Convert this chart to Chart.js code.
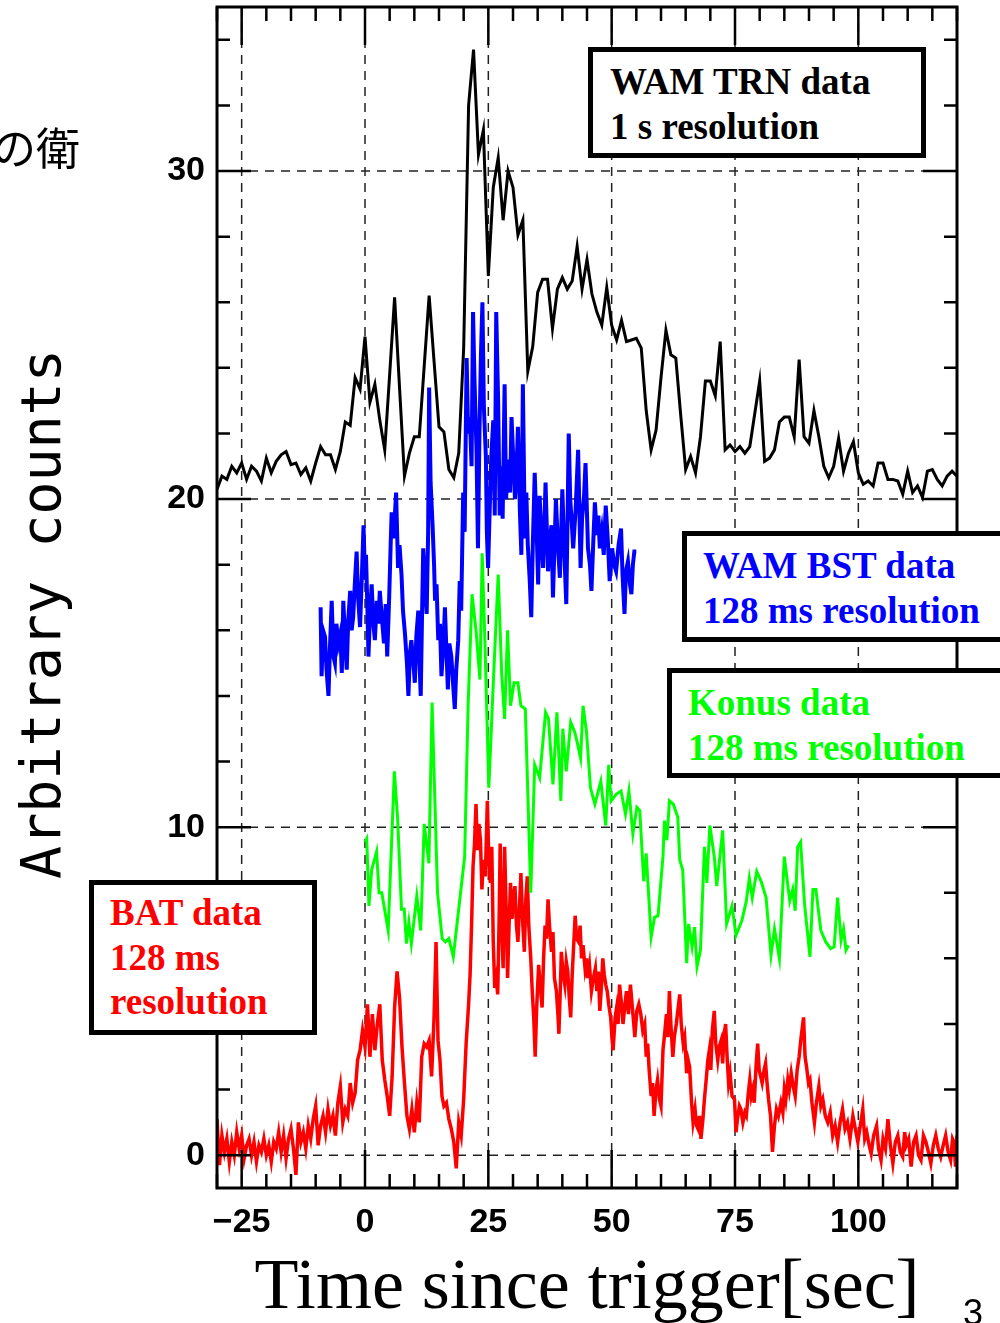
<!DOCTYPE html>
<html>
<head>
<meta charset="utf-8">
<script src="https://cdn.jsdelivr.net/npm/chart.js@4.4.1/dist/chart.umd.min.js"></script>
<style>
html, body { margin:0; padding:0; background:#fff; overflow:hidden; }
#wrap { position:relative; width:1000px; height:1323px; overflow:hidden; }
canvas { position:absolute; left:0; top:0; }
.box { position:absolute; box-sizing:border-box; border:5px solid #000; background:#fff;
  font:bold 37px "Liberation Serif", "Times New Roman", serif; line-height:45px;
  padding:7px 0 0 16px; white-space:nowrap; }
.note { position:absolute; white-space:nowrap; color:#000; }
</style>
</head>
<body>
<div id="wrap">
<canvas id="myChart" width="1000" height="1323"></canvas>
<div class="note" style="left:-8px;top:122px;font:44px 'Noto Sans CJK JP';line-height:48px">の衛</div>
<div class="box" style="left:588px;top:47px;width:338px;height:111px;color:#000;padding-left:17px">WAM TRN data<br>1 s resolution</div>
<div class="box" style="left:682px;top:531px;width:340px;height:111px;color:#0000ff">WAM BST data<br>128 ms resolution</div>
<div class="box" style="left:667px;top:668px;width:350px;height:110px;color:#00ff00">Konus data<br>128 ms resolution</div>
<div class="box" style="left:89px;top:880px;width:228px;height:155px;color:#ff0000;padding-top:6px;line-height:44.5px">BAT data<br>128 ms<br>resolution</div>
<div class="note" style="left:963px;top:1295px;font:36px 'Liberation Sans';line-height:36px">3</div>
</div>
<script>
// axis ticks
var xTicks = [-25, 0, 25, 50, 75, 100];
var yTicks = [0, 10, 20, 30];

// WAM TRN, 1 s bins starting at -30 s
var blackStart = -30;
var blackV = [
  20.3, 20.7, 20.6, 21.0, 20.8, 21.1, 20.6, 21.0, 20.85, 20.55,
  21.25, 20.8, 21.15, 21.35, 21.45, 21.05, 21.1, 20.75, 20.95, 20.55,
  21.1, 21.6, 21.35, 21.35, 20.9, 21.45, 22.35, 22.25, 23.7, 23.35,
  24.95, 22.95, 23.5, 22.4, 21.5, 23.8, 26.15, 23.4, 20.7, 21.4,
  21.9, 21.9, 24.05, 26.2, 24.2, 22.2, 22.05, 20.9, 20.65, 21.4,
  24.6, 32.0, 33.7, 30.5, 31.25, 26.8, 29.5, 30.4, 28.5, 30.0,
  29.5, 28.05, 28.5, 23.9, 24.65, 26.3, 26.7, 26.7, 25.2, 26.4,
  26.75, 26.4, 26.65, 27.7, 26.4, 27.3, 26.25, 25.7, 25.3, 26.45,
  25.3, 24.85, 25.45, 24.8, 24.85, 24.9, 24.6, 22.7, 21.5, 22.1,
  23.7, 25.15, 24.4, 24.3, 22.55, 20.9, 21.3, 20.8, 21.9, 23.6,
  23.6, 23.15, 24.8, 21.5, 21.65, 21.45, 21.6, 21.4, 21.6, 22.6,
  23.6, 21.15, 21.25, 21.5, 22.35, 22.5, 22.5, 21.9, 24.25, 21.9,
  21.7, 22.7, 21.9, 21.0, 20.65, 21.0, 21.85, 20.85, 21.4, 21.75,
  20.8, 20.45, 20.55, 20.4, 21.1, 21.1, 20.6, 20.6, 20.55, 20.15,
  20.85, 20.2, 20.4, 20.05, 20.85, 20.9, 20.6, 20.4, 20.7, 20.85, 20.7
];

// WAM BST
var blueT = [
  -9.0, -8.8, -8.5, -8.1, -7.8, -7.4, -7.1, -6.75, -6.4, -6.1,
  -5.8, -5.4, -5.0, -4.7, -4.4, -4.0, -3.7, -3.4, -3.0, -2.7,
  -2.4, -2.0, -1.7, -1.4, -1.0, -0.6, -0.3, 0.0, 0.2, 0.5,
  0.7, 1.0, 1.35, 1.7, 2.0, 2.4, 2.7, 3.0, 3.4, 3.85,
  4.2, 4.5, 4.9, 5.2, 5.4, 5.8, 6.3, 6.7, 7.0, 7.4,
  7.7, 8.1, 8.5, 8.8, 9.1, 9.4, 9.8, 10.1, 10.4, 10.8,
  11.0, 11.3, 11.6, 11.8, 12.1, 12.5, 12.8, 13.0, 13.3, 13.7,
  14.0, 14.2, 14.5, 14.85, 15.2, 15.5, 15.9, 16.2, 16.5, 16.8,
  17.1, 17.5, 17.8, 18.2, 18.5, 18.9, 19.2, 19.5, 19.9, 20.2,
  20.6, 20.9, 21.25, 21.6, 21.9, 22.2, 22.6, 22.9, 23.2, 23.5,
  23.8, 24.1, 24.5, 24.7, 24.95, 25.3, 25.6, 26.0, 26.3, 26.6,
  27.0, 27.3, 27.6, 27.9, 28.3, 28.6, 29.0, 29.4, 29.7, 30.4,
  30.7, 31.0, 31.4, 31.7, 32.0, 32.4, 32.7, 33.0, 33.4, 33.7,
  34.0, 34.4, 34.8, 35.1, 35.4, 35.8, 36.1, 36.6, 37.1, 37.5,
  37.8, 38.1, 38.4, 38.7, 39.1, 39.5, 40.0, 40.4, 40.8, 41.0,
  41.3, 41.6, 41.9, 42.2, 42.7, 43.2, 43.7, 44.0, 44.4, 44.7,
  45.2, 45.6, 45.9, 46.3, 46.6, 47.0, 47.3, 47.6, 48.0, 48.4,
  48.8, 49.2, 49.6, 50.1, 50.5, 50.9, 51.4, 51.9, 52.2, 52.6,
  52.9, 53.3, 53.7, 54.0, 54.3, 54.6, 55.0
];
var blueV = [
  16.7, 14.6, 16.0, 15.8, 14.8, 14.0, 15.5, 16.9, 15.2, 15.0,
  16.2, 15.6, 15.9, 14.7, 16.9, 15.6, 14.8, 16.3, 17.2, 16.0,
  16.4, 17.6, 18.4, 17.0, 16.1, 17.8, 19.2, 17.6, 18.3, 16.6,
  15.2, 16.4, 17.4, 16.2, 15.7, 16.9, 16.2, 17.2, 16.4, 15.6,
  16.8, 15.2, 17.0, 18.6, 19.6, 18.8, 20.2, 17.9, 18.6, 17.7,
  16.6, 15.9, 15.0, 14.0, 15.3, 15.7, 15.0, 14.4, 15.8, 16.6,
  15.2, 14.0, 16.8, 18.5, 17.6, 16.5, 19.0, 23.4, 20.5, 19.2,
  18.0, 16.9, 17.4, 15.7, 16.2, 14.6, 15.6, 16.7, 15.4, 14.2,
  15.6, 15.2, 14.5, 13.6, 14.8, 15.7, 17.5, 16.6, 20.2, 19.0,
  24.3, 22.0, 22.5, 21.0, 25.7, 23.6, 21.5, 18.5, 22.0, 24.4,
  26.0, 22.8, 21.3, 19.0, 17.9, 19.8, 21.3, 22.4, 19.5, 25.7,
  22.9, 19.5, 21.0, 19.4, 23.5, 20.0, 21.2, 20.2, 22.5, 20.0,
  20.8, 22.2, 19.6, 18.3, 23.5, 18.8, 20.2, 18.6, 17.5, 16.4,
  18.5, 20.8, 19.0, 17.4, 20.1, 18.7, 17.9, 20.5, 17.8, 18.8,
  19.2, 17.0, 18.5, 20.0, 18.6, 17.6, 20.3, 18.4, 16.8, 18.8,
  22.0, 20.0, 19.3, 18.5, 19.7, 21.5, 17.9, 19.4, 20.1, 21.1,
  18.5, 18.0, 17.2, 18.8, 19.9, 18.9, 19.5, 18.5, 19.0, 18.3,
  19.8, 18.8, 17.5, 18.5, 18.0, 17.8, 18.6, 19.1, 17.7, 16.5,
  17.8, 18.1, 17.4, 17.1, 18.0, 18.4, 18.4
];

// Konus
var greenT = [
  0.0, 0.35, 0.8, 1.35, 2.35, 2.85, 3.4, 4.7, 5.95, 6.6,
  7.4, 7.95, 8.4, 8.9, 9.4, 10.5, 11.3, 12.0, 12.95, 13.6,
  14.7, 15.65, 16.3, 17.0, 17.9, 20.2, 20.9, 21.7, 22.5, 23.3,
  23.75, 24.3, 25.1, 25.95, 27.0, 27.7, 28.3, 28.9, 29.5, 30.2,
  31.0, 31.6, 32.5, 33.6, 34.4, 35.4, 36.6, 37.2, 38.1, 38.9,
  39.7, 40.1, 40.8, 41.7, 42.5, 43.0, 43.7, 44.2, 44.9, 45.7,
  46.6, 47.8, 48.8, 49.4, 49.9, 50.9, 51.9, 52.8, 53.5, 54.3,
  55.1, 55.7, 56.5, 57.0, 58.0, 58.7, 59.4, 60.4, 60.7, 61.2,
  61.7, 62.5, 63.4, 63.8, 64.4, 65.2, 65.6, 66.3, 66.8, 67.3,
  68.0, 68.8, 69.3, 69.9, 70.8, 71.3, 72.5, 73.3, 74.4, 75.2,
  76.4, 77.3, 77.9, 78.5, 79.4, 80.3, 81.3, 82.3, 83.0, 84.0,
  85.0, 86.1, 86.7, 87.2, 87.7, 88.3, 89.1, 90.2, 90.8, 91.4,
  92.4, 93.4, 94.4, 95.1, 95.8, 96.5, 97.0, 97.5, 98.0
];
var greenV = [
  9.55, 9.65, 7.6, 8.7, 9.25, 8.0, 8.0, 6.85, 11.7, 10.3,
  7.5, 7.5, 6.45, 7.1, 6.45, 7.9, 6.85, 10.1, 8.9, 13.8,
  8.0, 6.6, 6.5, 6.6, 6.05, 9.1, 13.7, 17.1, 16.0, 14.5,
  18.35, 15.7, 11.2, 14.2, 17.7, 14.7, 13.3, 16.0, 13.7, 14.4,
  14.4, 13.7, 13.6, 8.0, 11.9, 11.5, 13.5, 13.3, 11.3, 13.5,
  10.8, 13.0, 11.7, 13.2, 12.9, 12.6, 12.1, 13.7, 12.9, 11.2,
  10.7, 11.4, 10.05, 11.9, 10.8, 11.0, 11.1, 10.4, 11.1, 9.8,
  10.6, 10.5, 8.35, 9.2, 6.65, 7.25, 7.3, 9.1, 10.2, 9.6,
  10.8, 10.7, 10.3, 9.0, 8.7, 5.85, 7.05, 6.35, 6.95, 5.75,
  6.25, 9.4, 8.3, 10.05, 9.1, 8.2, 9.9, 7.05, 7.6, 6.7,
  7.15, 7.75, 8.45, 7.85, 8.65, 8.35, 7.85, 6.1, 6.9, 6.0,
  9.1, 7.75, 8.1, 7.45, 9.4, 9.55, 7.65, 6.05, 8.1, 8.1,
  6.85, 6.5, 6.3, 6.35, 7.85, 6.55, 6.9, 6.25, 6.4
];

// BAT
var redT = [
  -30, -29.5, -29, -28.5, -28, -27.5, -27, -26.5, -26, -25.5,
  -25, -24.5, -24, -23.5, -23, -22.5, -22, -21.5, -21, -20.5,
  -20, -19.5, -19, -18.5, -18, -17.5, -17, -16.5, -16, -15.5,
  -15, -14.5, -14, -13.5, -13, -12.5, -12, -11.5, -11, -10.5,
  -10, -9.5, -9, -8.5, -8, -7.5, -7, -6.5, -6, -5.5,
  -5, -4.5, -4, -3.5, -3, -2.5, -2, -1.5, -1, -0.5,
  0, 0.5, 1, 1.5, 2, 2.5, 3, 3.5, 4, 4.5,
  5, 5.5, 6, 6.5, 7, 7.5, 8, 8.5, 9, 9.5,
  10, 10.5, 11, 11.5, 12, 12.5, 13, 13.5, 14, 14.4,
  14.8, 15.2, 15.6, 16, 16.5, 17, 17.5, 18, 18.5, 19,
  19.5, 20, 20.5, 21, 21.3, 21.6, 21.9, 22.2, 22.5, 22.8,
  23.1, 23.4, 23.7, 24, 24.4, 24.8, 25.1, 25.4, 25.7, 26,
  26.3, 26.6, 26.9, 27.2, 27.4, 27.7, 28, 28.3, 28.6, 28.9,
  29.2, 29.5, 29.8, 30.1, 30.4, 30.7, 31, 31.3, 31.6, 32,
  32.3, 32.6, 32.9, 33.2, 33.6, 33.9, 34.2, 34.5, 34.8, 35.2,
  35.5, 35.9, 36.2, 36.5, 36.8, 37.1, 37.4, 37.8, 38.1, 38.4,
  38.8, 39.1, 39.3, 39.6, 39.8, 40.1, 40.5, 40.8, 41.1, 41.4,
  41.7, 42, 42.3, 42.6, 42.9, 43.3, 43.6, 43.9, 44.2, 44.6,
  44.9, 45.1, 45.5, 45.9, 46.3, 46.7, 47, 47.3, 47.6, 47.9,
  48.2, 48.5, 48.8, 49.1, 49.4, 49.8, 50.1, 50.3, 50.7, 51,
  51.3, 51.6, 52, 52.3, 52.7, 53, 53.4, 53.8, 54.2, 54.7,
  55.1, 55.5, 55.9, 56.3, 56.7, 57, 57.3, 57.6, 58, 58.3,
  58.6, 59, 59.3, 59.7, 60, 60.4, 60.8, 61.1, 61.4, 61.7,
  62, 62.4, 62.7, 63.1, 63.4, 63.8, 64.1, 64.5, 64.8, 65.2,
  65.5, 65.8, 66.2, 66.5, 66.9, 67.2, 67.5, 67.8, 68.1, 68.5,
  68.8, 69.1, 69.5, 69.8, 70.1, 70.4, 70.8, 71.1, 71.5, 71.8,
  72.2, 72.5, 72.8, 73.1, 73.4, 73.7, 74, 74.4, 74.9, 75.2,
  75.5, 75.9, 76.2, 76.6, 77, 77.3, 77.7, 78, 78.3, 78.6,
  78.9, 79.3, 79.6, 79.9, 80.2, 80.5, 80.9, 81.2, 81.5, 81.8,
  82.2, 82.6, 83, 83.4, 83.8, 84.3, 84.7, 85, 85.3, 85.7,
  86, 86.4, 86.8, 87.2, 87.6, 88, 88.4, 88.9, 89.2, 89.5,
  89.9, 90.2, 90.6, 91.1, 91.5, 92, 92.4, 92.8, 93.3, 93.8,
  94.3, 94.8, 95.3, 95.8, 96.3, 96.8, 97.3, 97.8, 98.3, 98.9,
  99.4, 99.9, 100.4, 100.9, 101.3, 101.7, 102.2, 102.6, 103.1, 103.7,
  104.1, 104.6, 105, 105.5, 106, 106.5, 107, 107.5, 108, 108.5,
  109, 109.4, 109.7, 110.2, 110.7, 111.2, 111.7, 112.2, 112.7, 113.2,
  113.7, 114.2, 114.7, 115.2, 115.7, 116.2, 116.7, 117.2, 117.7, 118.2,
  118.7, 119.1, 119.4, 119.7, 120
];
var redV = [
  1.1, -0.3, 0.6, 0.1, 0.5, -0.2, 0.4, 0.0, 0.7, 0.2,
  0.6, -0.1, 0.3, 0.5, 0.0, 0.4, -0.2, 0.3, 0.1, 0.5,
  0.0, 0.3, -0.2, 0.4, 0.2, 0.7, 0.1, 0.6, -0.1, 0.5,
  0.8, 0.2, -0.6, 1.0, 0.4, 0.7, 0.2, 0.9, 0.5, 1.1,
  1.5, 0.3, 0.9, 1.2, 0.7, 1.4, 0.9, 1.2, 0.6, 1.6,
  2.1, 1.0, 1.4, 1.2, 2.2, 1.6, 1.9, 2.9, 3.2, 3.8,
  3.3, 4.6, 3.0, 4.3, 3.2, 4.0, 4.6, 2.9, 2.3, 1.8,
  1.2, 2.4, 4.5, 5.6, 4.8, 3.3, 2.2, 1.2, 0.8, 1.4,
  0.7, 1.6, 1.0, 3.0, 3.4, 3.3, 3.5, 2.4, 4.2, 6.5,
  3.5, 2.9, 1.8, 1.5, 1.6, 1.1, 0.8, 0.4, -0.4, 1.0,
  0.6, 1.7, 3.4, 4.6, 5.5, 7.0, 8.8, 9.5, 10.7, 9.3,
  10.1, 9.6, 8.1, 9.0, 8.5, 10.8, 9.0, 8.3, 9.4, 6.5,
  5.1, 5.4, 4.9, 7.3, 9.5, 7.0, 5.7, 9.4, 7.6, 5.4,
  7.0, 8.3, 7.2, 7.9, 8.2, 7.0, 6.5, 7.5, 8.6, 7.0,
  6.2, 7.8, 8.5, 7.0, 6.0, 5.0, 4.2, 3.0, 4.5, 5.8,
  5.2, 4.5, 6.0, 7.0, 6.6, 7.8, 7.0, 6.2, 6.8, 5.4,
  5.0, 4.3, 3.7, 5.1, 6.2, 5.6, 5.2, 5.9, 5.6, 4.8,
  4.2, 5.5, 6.4, 7.3, 6.6, 6.5, 7.0, 6.0, 6.4, 5.7,
  6.0, 5.4, 5.8, 5.0, 5.4, 5.7, 5.0, 5.6, 4.4, 5.1,
  6.0, 5.5, 5.2, 5.0, 4.6, 4.2, 3.5, 3.2, 4.2, 4.5,
  4.0, 5.2, 4.6, 4.0, 4.6, 5.0, 4.3, 5.2, 4.5, 3.6,
  4.4, 4.6, 4.3, 3.8, 4.0, 3.0, 3.4, 2.6, 1.8, 2.2,
  1.2, 2.0, 2.3, 1.7, 1.5, 3.2, 3.8, 4.3, 3.6, 5.0,
  4.0, 3.0, 3.6, 4.0, 4.4, 4.9, 4.0, 3.4, 3.6, 2.5,
  2.9, 2.7, 1.6, 1.0, 1.4, 0.9, 0.8, 1.2, 0.5, 1.1,
  1.7, 2.2, 2.9, 3.2, 2.6, 3.8, 4.4, 3.4, 2.9, 3.3,
  3.5, 2.8, 3.7, 4.0, 3.0, 2.2, 2.5, 1.8, 1.7, 0.7,
  1.1, 1.5, 1.4, 1.0, 1.3, 1.2, 1.9, 2.3, 1.8, 2.0,
  1.6, 2.8, 3.4, 2.6, 2.4, 2.2, 2.6, 2.8, 2.2, 1.7,
  1.2, 0.1, 0.9, 1.4, 1.2, 1.6, 1.3, 2.0, 1.7, 2.3,
  2.0, 2.5, 2.1, 1.8, 2.6, 3.0, 3.6, 4.2, 3.0, 2.7,
  2.2, 2.3, 1.6, 1.0, 1.6, 2.1, 1.5, 1.7, 1.2, 1.0,
  1.3, 0.6, 0.9, 0.4, 1.0, 1.4, 0.8, 1.0, 0.5, 1.2,
  0.8, 0.4, 0.9, 1.4, 0.5, 0.7, 0.3, 0.05, 0.6, 0.9,
  0.2, -0.15, 0.5, 0.2, 1.1, 0.3, -0.25, 0.4, 0.6, 0.1,
  -0.05, 0.7, 0.3, 0.5, -0.35, 0.4, 0.6, 0.0, -0.15, 0.6,
  0.4, 0.1, -0.25, 0.3, 0.6, 0.2, -0.05, 0.3, 0.6, 0.1,
  -0.15, 0.5, 0.4, -0.35, 0.6
];

function pts(t, v) {
  return v.map(function(y, i) { return { x: t[i], y: y }; });
}
var blackT = blackV.map(function(v, i) { return blackStart + i; });

// frame, dashed grid and inward ticks
var framePlugin = {
  id: 'frame',
  beforeDatasetsDraw: function(chart) {
    var ctx = chart.ctx, a = chart.chartArea, sx = chart.scales.x, sy = chart.scales.y;
    ctx.save();
    ctx.strokeStyle = '#222';
    ctx.lineWidth = 1.5;
    ctx.setLineDash([9, 7]);
    ctx.beginPath();
    xTicks.forEach(function(v) {
      var px = sx.getPixelForValue(v);
      ctx.moveTo(px, a.top); ctx.lineTo(px, a.bottom);
    });
    yTicks.forEach(function(v) {
      var py = sy.getPixelForValue(v);
      ctx.moveTo(a.left, py); ctx.lineTo(a.right, py);
    });
    ctx.stroke();
    ctx.restore();
  },
  afterDatasetsDraw: function(chart) {
    var ctx = chart.ctx, a = chart.chartArea, sx = chart.scales.x, sy = chart.scales.y;
    ctx.save();
    ctx.strokeStyle = '#000';
    ctx.lineWidth = 2.5;
    ctx.beginPath();
    for (var v = -30; v <= 120; v += 5) {
      var px = sx.getPixelForValue(v);
      var len = xTicks.indexOf(v) >= 0 ? 38 : 14;
      ctx.moveTo(px, a.bottom); ctx.lineTo(px, a.bottom - len);
      ctx.moveTo(px, a.top); ctx.lineTo(px, a.top + len);
    }
    for (var w = 0; w <= 34; w += 2) {
      var py = sy.getPixelForValue(w);
      var l2 = yTicks.indexOf(w) >= 0 ? 34 : 13;
      ctx.moveTo(a.left, py); ctx.lineTo(a.left + l2, py);
      ctx.moveTo(a.right, py); ctx.lineTo(a.right - l2, py);
    }
    ctx.stroke();
    ctx.lineWidth = 3;
    ctx.strokeRect(a.left, a.top, a.right - a.left, a.bottom - a.top);
    ctx.restore();
  }
};

var tickFont = { family: "'Liberation Sans', sans-serif", size: 34, weight: 'bold' };

new Chart("myChart", {
  type: "line",
  data: {
    datasets: [
      { data: pts(blackT, blackV), borderColor: "#000000", borderWidth: 3 },
      { data: pts(blueT, blueV), borderColor: "#0000ff", borderWidth: 4 },
      { data: pts(greenT, greenV), borderColor: "#00ff00", borderWidth: 3 },
      { data: pts(redT, redV), borderColor: "#ff0000", borderWidth: 3.5 }
    ]
  },
  options: {
    responsive: false,
    animation: false,
    devicePixelRatio: 1,
    layout: { padding: { top: 7, right: 43, left: 0, bottom: 0 } },
    elements: { point: { radius: 0 }, line: { tension: 0 } },
    plugins: { legend: { display: false }, tooltip: { enabled: false } },
    scales: {
      x: {
        type: "linear",
        min: -30,
        max: 120,
        afterFit: function(s) { s.height = 135; s.paddingLeft = 0; s.paddingRight = 0; },
        afterBuildTicks: function(s) { s.ticks = xTicks.map(function(v) { return { value: v }; }); },
        grid: { display: false, drawTicks: false },
        border: { display: false },
        ticks: {
          color: "#000", padding: 14, maxRotation: 0, autoSkip: false, font: tickFont,
          callback: function(v) { return v < 0 ? "\u2212" + (-v) : String(v); }
        },
        title: {
          display: true, text: "Time since trigger[sec]", color: "#000",
          font: { family: "'Liberation Serif', serif", size: 72, lineHeight: 0.94 },
          padding: { top: 0, bottom: 0 }
        }
      },
      y: {
        min: -1,
        max: 35,
        afterFit: function(s) { s.width = 217; s.paddingTop = 0; s.paddingBottom = 0; },
        afterBuildTicks: function(s) { s.ticks = yTicks.map(function(v) { return { value: v }; }); },
        grid: { display: false, drawTicks: false },
        border: { display: false },
        ticks: { color: "#000", padding: 12, font: tickFont },
        title: {
          display: true, text: "Arbitrary counts ", color: "#000",
          font: { family: "'DejaVu Sans Mono', monospace", size: 55, lineHeight: 1 },
          padding: { top: 18, bottom: 0 }
        }
      }
    }
  },
  plugins: [framePlugin]
});
</script>
</body>
</html>
